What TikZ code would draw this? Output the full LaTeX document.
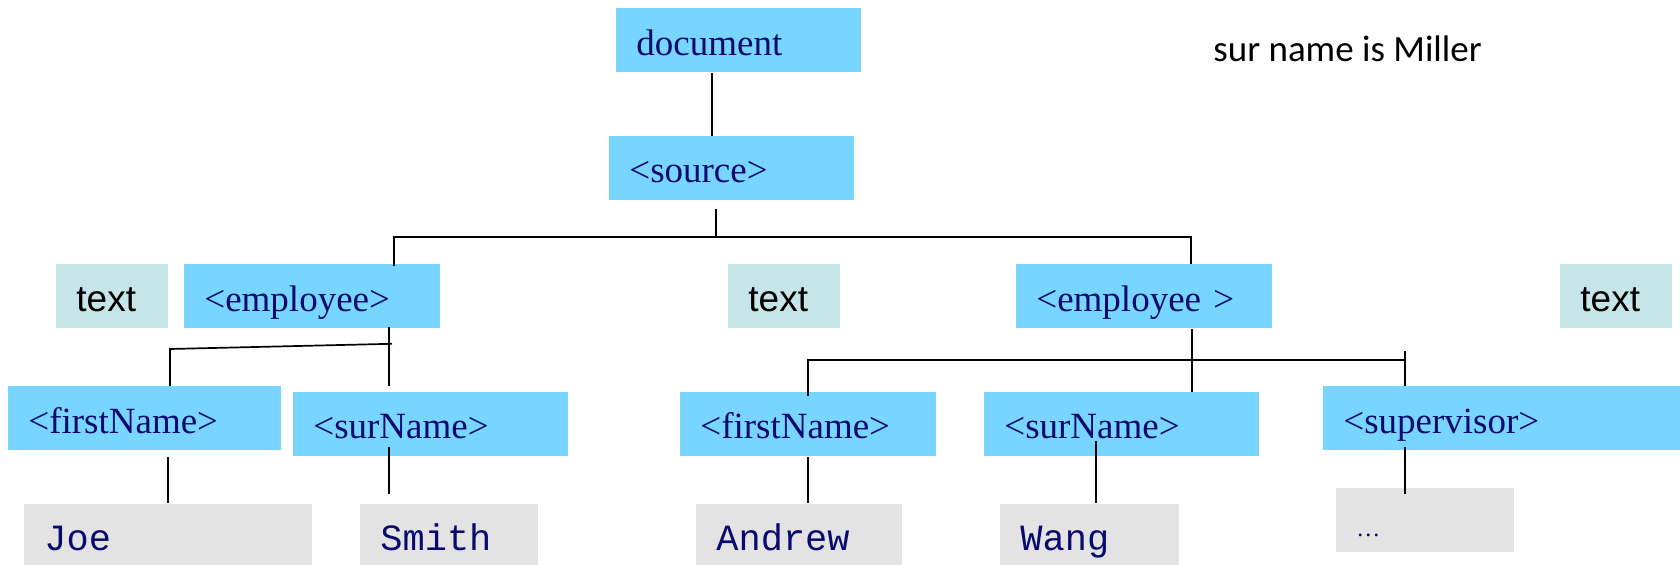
\documentclass[tikz,border=0pt]{standalone}
\usepackage{fontspec}
\setmainfont{Liberation Serif}
\newfontfamily\arialfont{Liberation Sans}
\newfontfamily\courfont{Liberation Mono}
\newfontfamily\calfont{Carlito}
\usetikzlibrary{calc}
\definecolor{tagblue}{HTML}{77D5FF}
\definecolor{txtteal}{HTML}{C5E5E8}
\definecolor{valgrey}{HTML}{E3E3E3}
\definecolor{navy}{HTML}{0A0A6E}
\tikzset{
  box/.style={anchor=north west, inner xsep=10pt, inner ysep=0pt, align=left,
    font=\fontsize{18.5pt}{22pt}\selectfont},
  tag/.style={box, fill=tagblue, text=navy},
  txt/.style={box, fill=txtteal, text=black, font=\arialfont\fontsize{18.5pt}{22pt}\selectfont},
  val/.style={box, fill=valgrey, text=navy, font=\courfont\fontsize{18.5pt}{22pt}\selectfont},
  dim/.style n args={3}{text width=#1, text height=#2, text depth=#3},
  link/.style={draw=black, line width=0.85pt},
}
\begin{document}
\begin{tikzpicture}[x=0.5pt, y=-0.5pt]
\useasboundingbox (0,0) rectangle (1680,565);

% element boxes
\node[tag, dim={102.5pt}{23.5pt}{8.5pt}] (doc)  at (616,8)   {document};
\node[tag, dim={102.5pt}{23pt}{9pt}]     (src)  at (609,136) {<source>};
\node[txt, dim={36pt}{23.5pt}{8.5pt}]    (t1)   at (56,264)  {text};
\node[tag, dim={108pt}{23.5pt}{8.5pt}]   (emp1) at (184,264) {<employee>};
\node[txt, dim={36pt}{23.5pt}{8.5pt}]    (t2)   at (728,264) {text};
\node[tag, dim={108pt}{23.5pt}{8.5pt}]   (emp2) at (1016,264) {<employee >};
\node[txt, dim={36pt}{23.5pt}{8.5pt}]    (t3)   at (1560,264) {text};
\node[tag, dim={116.5pt}{23.5pt}{8.5pt}] (fn1)  at (8,386)   {<firstName>};
\node[tag, dim={117.5pt}{23pt}{9pt}]     (sn1)  at (293,392) {<surName>};
\node[tag, dim={108pt}{23pt}{9pt}]       (fn2)  at (680,392) {<firstName>};
\node[tag, dim={117.5pt}{23pt}{9pt}]     (sn2)  at (984,392) {<surName>};
\node[tag, dim={158.5pt}{23.5pt}{8.5pt}] (sup)  at (1323,386) {<supervisor>};

% value boxes
\node[val, dim={124pt}{23pt}{7.5pt}]  (joe)    at (24,504)   {Joe};
\node[val, dim={69pt}{23pt}{7.5pt}]   (smith)  at (360,504)  {Smith};
\node[val, dim={83pt}{23pt}{7.5pt}]   (andrew) at (696,504)  {Andrew};
\node[val, dim={69.5pt}{23pt}{7.5pt}] (wang)   at (1000,504) {Wang};
\node[tag, fill=valgrey, font=\fontsize{12pt}{14pt}\selectfont,
      dim={69pt}{24pt}{8pt}] (dots) at (1336,488) {…};

% note
\node[anchor=base west, inner sep=0pt, font=\calfont\fontsize{18.5pt}{22pt}\selectfont] (note) at (1213,62) {sur name is Miller};

% connectors
\draw[link] ($(doc.south west)+(96,0)$) -- ($(src.north west)+(103,0)$);
\coordinate (srcbar) at (716,237);
\draw[link] ($(src.south west)+(107,8)$) -- (srcbar);
\draw[link] ($(emp1.north west)+(210,2)$) |- ($(emp2.north west)+(175,-27)$) -- ($(emp2.north west)+(175,0)$);

\draw[link] ($(emp1.south west)+(205,-2)$) -- ($(sn1.north west)+(96,-6)$);
\draw[link] ($(emp1.south west)+(208,15)$) -- ($(fn1.north west)+(162,-37)$) -- ($(fn1.north west)+(162,0)$);

\draw[link] ($(emp2.south west)+(176,0)$) -- ($(sn2.north west)+(208,0)$);
\draw[link] ($(fn2.north west)+(128,4)$) |- ($(sup.north west)+(82,-26)$);
\draw[link] ($(sup.north west)+(82,-35)$) -- ($(sup.north west)+(82,0)$);

\draw[link] ($(fn1.south west)+(160,6)$) -- ($(joe.north west)+(144,-1)$);
\draw[link] ($(sn1.south west)+(96,-10)$) -- ($(smith.north west)+(29,-10)$);
\draw[link] ($(fn2.south west)+(128,0)$) -- ($(andrew.north west)+(112,-1)$);
\draw[link] ($(sn2.south west)+(112,-16)$) -- ($(wang.north west)+(96,-1)$);
\draw[link] ($(sup.south west)+(82,-4)$) -- ($(dots.north west)+(69,6)$);
\end{tikzpicture}
\end{document}
